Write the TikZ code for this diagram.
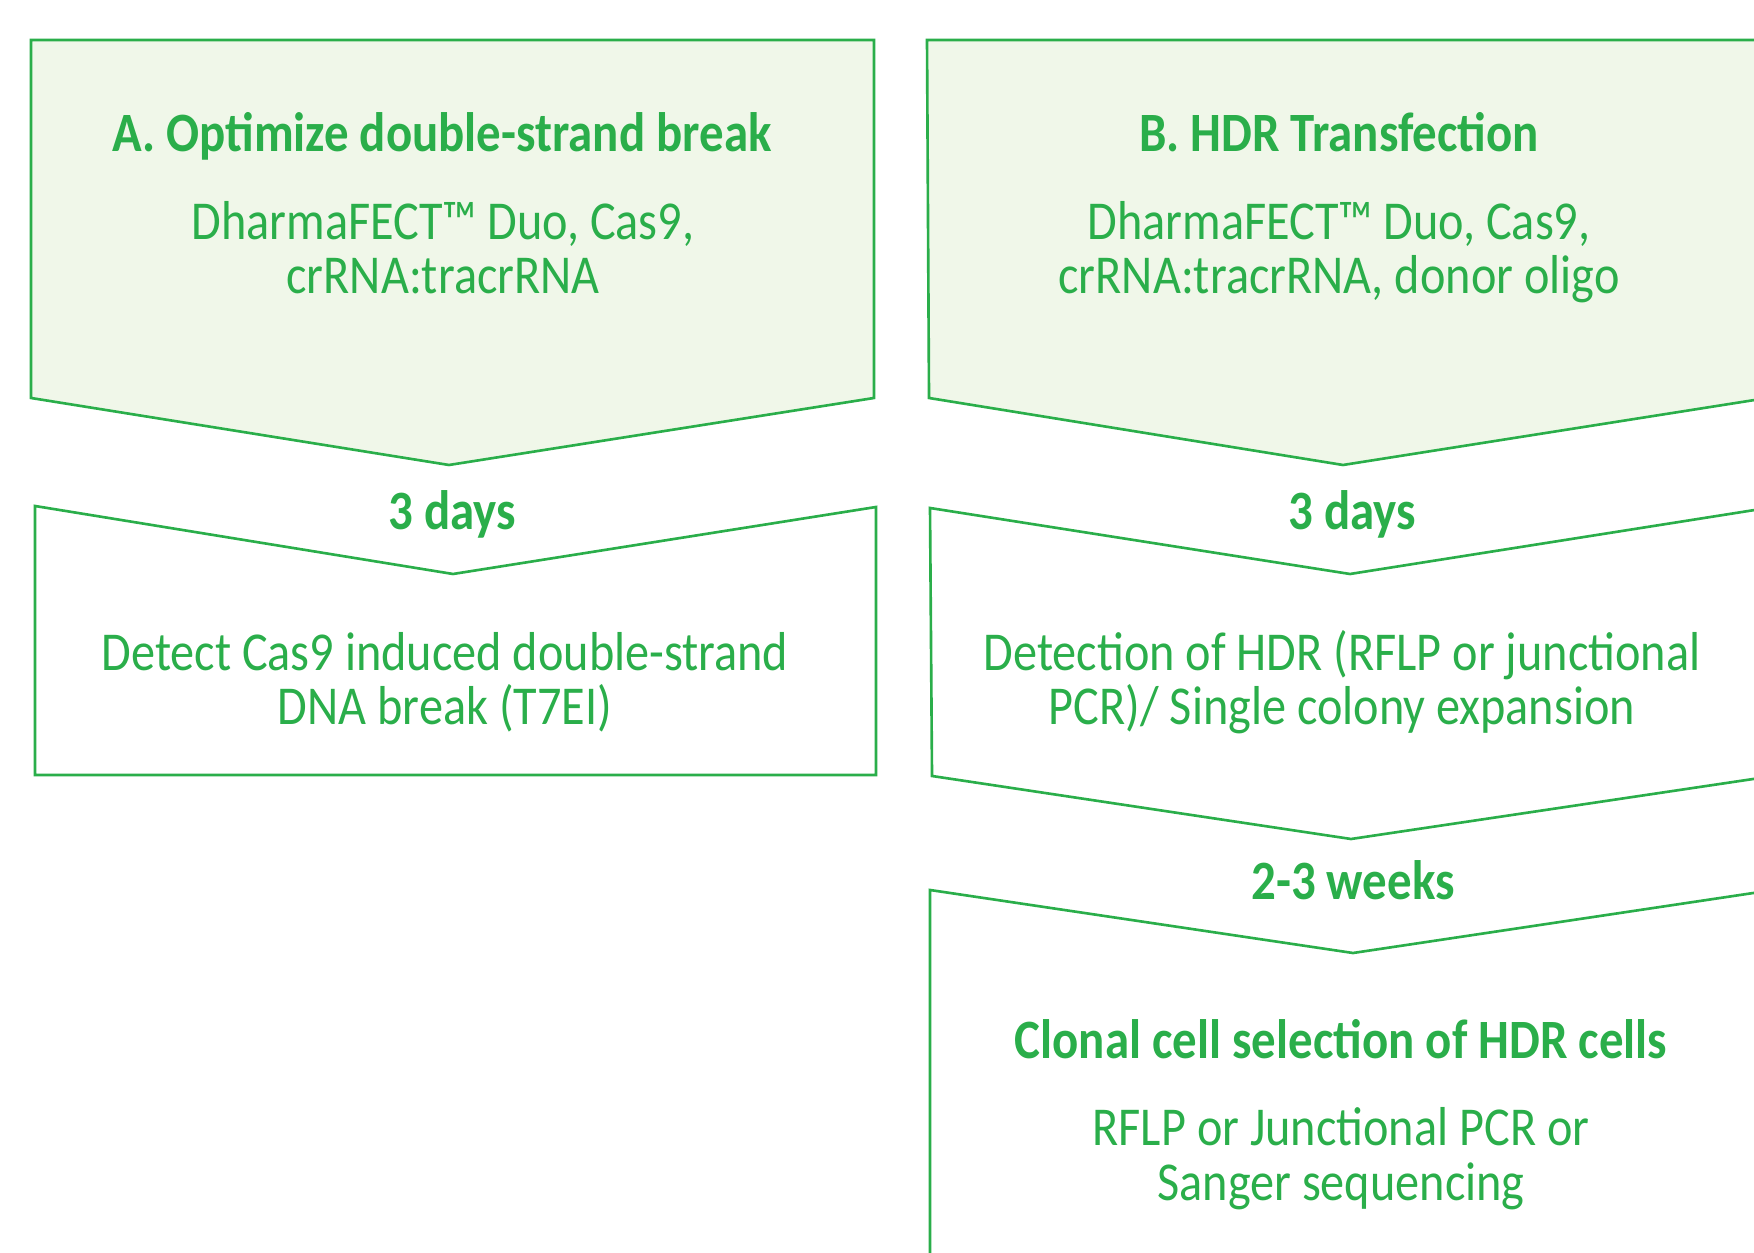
\documentclass[tikz,border=0pt]{standalone}
\usepackage{fontspec}
\setmainfont{Carlito}[FakeStretch=0.88]
\definecolor{gegreen}{RGB}{42,174,74}
\definecolor{gelight}{RGB}{240,247,233}
\tikzset{
  chev/.style={draw=gegreen, line width=0.75pt, line join=miter},
  head/.style={text=gegreen, font=\bfseries\fontsize{15.8}{15.8}\selectfont, inner sep=0pt, anchor=base},
  body/.style={text=gegreen, font=\fontsize{15.6}{15.6}\selectfont, inner sep=0pt, anchor=base, align=center},
}
\begin{document}
\begin{tikzpicture}[x=0.1mm, y=-0.1mm]
    \useasboundingbox (0,0) rectangle (1754,1253);
    \clip (0,0) rectangle (1754,1253);

    % column A
    \filldraw[chev, fill=gelight] (31,40) -- (874,40) -- (874,398) -- (449,465) -- (31,398) -- cycle;
    \draw[chev] (35,506) -- (453,574) -- (876,507) -- (876,775) -- (35,775) -- cycle;

    % column B (runs off the right edge)
    \filldraw[chev, fill=gelight] (927,40) -- (1780,40) -- (1780,396) -- (1343,465) -- (929,398) -- cycle;
    \draw[chev] (930,508) -- (1350,574) -- (1780,506) -- (1780,775) -- (1351,839) -- (932,776) -- cycle;
    \draw[chev] (930,1270) -- (930,890) -- (1353,953) -- (1780,889);

    % texts (base = last line)
    \node[head] (titleA) at (442,152) {A. Optimize double-strand break};
    \node[body] (reagA) at (443,294) {DharmaFECT™ Duo, Cas9,\\crRNA:tracrRNA};
    \node[head] (timeA) at (452,530) {3 days};
    \node[body] (detA) at (445,725) {Detect Cas9 induced double-strand\\DNA break (T7EI)};

    \node[head] (titleB) at (1339,152) {B. HDR Transfection};
    \node[body] (reagB) at (1339,294) {DharmaFECT™ Duo, Cas9,\\crRNA:tracrRNA, donor oligo};
    \node[head] (timeB) at (1352,530) {3 days};
    \node[body] (detB) at (1342,725) {Detection of HDR (RFLP or junctional\\PCR)/ Single colony expansion};
    \node[head] (timeC) at (1353,900) {2-3 weeks};
    \node[head] (titleC) at (1341,1058) {Clonal cell selection of HDR cells};
    \node[body] (seqC) at (1341,1200) {RFLP or Junctional PCR or\\Sanger sequencing};
\end{tikzpicture}
\end{document}
